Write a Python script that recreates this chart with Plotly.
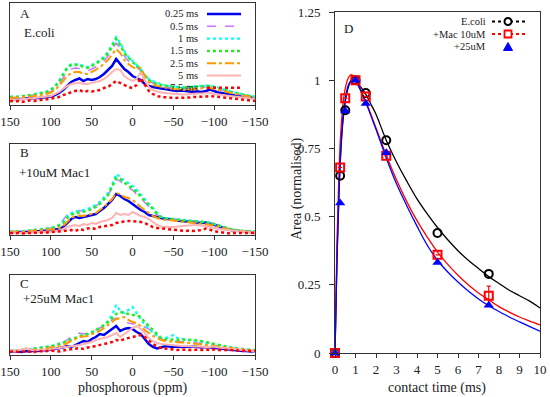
import plotly.graph_objects as go

# ---------------- data ----------------
ppm = list(range(150, -151, -5))
series_names = ["0.25 ms", "0.5 ms", "1 ms", "1.5 ms", "2.5 ms", "5 ms", "7.5 ms"]

# Panel A (E.coli) intensities (arbitrary units)
A_025 = [6,6,5.5,6,6.5,6.5,7,7,7.5,8, 8.5,10,12,15,19,23,25,26.5,24,26, 25,26,28,31,35,39,46,41,36,33,
         29,27,25,21,19,18,17,16.5,16,15, 14.5,14,14.5,14,13.5,13,13.5,13,14,15.5, 14,12.5,12,11,10,9.5,9,8.5,8,7.5, 7]
A_05 = [7,7.5,7.5,8,8.5,9,9.5,10,11,12, 13.5,16,21,27,33,36,37,36.5,35,34, 36,38,41,44,49,55,62,57,49,44,
        40,38,34,28,24,22,20,19,18,17.5, 17,16.5,16,16.5,16.5,17,17.5,17.5,18,18.5, 17,16,15,13.5,12.5,11.5,10.5,9.5,9,8.5, 8]
A_1 = [8,8.5,8,9,9.5,10,11,11.5,12.5,13.5, 15.5,19,24,31,38,41,41,40.5,39,38, 40,42,45,48,53,60,68,62,54,48,
       44,41,36,30,26,24,22,20.5,19.5,19, 18.5,18,17.5,18,18,18.5,19,19,19.5,19.5, 18.5,17.5,16.5,15,13.5,12.5,11.5,10.5,9.5,9, 8.5]
A_15 = [8,8,8.5,9,9,10,10.5,11,12,13, 15,18,23,30,37,40,40,40,38,37, 39,41,44,47,52,58,66,60,52,47,
        43,40,35,29,25,23,21,20,19,18.5, 18,17.5,17,17.5,17.5,18,18.5,18.5,19,19, 18,17,16,14.5,13,12,11,10,9,8.5, 8]
A_25 = [7,7,7.5,8,8,8.5,9,9.5,10,11, 12.5,15,19,24,29,32,33,33,31,31, 33,35,38,41,45,50,56,52,45,41,
        38,36,37,29,23,20,19,18,17,16.5, 16,15.5,15,15,15.5,16,16.5,16.5,17,17, 16,15,14,13,12,11,10,9.5,9,8, 7.5]
A_5 = [5,5.5,5.5,6,6,6.5,7,7,7.5,8, 9,11,13,16,19,21,22,22.5,21,21, 22,23,24,26,29,33,36,35,29,26,
       24,26,33,25,18,15,13.5,12.5,12,11.5, 11,11,10.5,10.5,11,11,11.5,11.5,12,12, 11,10.5,10,9.5,9,8.5,8,7.5,7,6.5, 6]
A_75 = [4,3.5,4,3,4,4.5,4,5,5,5.5, 6,7,8,10,11,13,14,15,13,14, 13.5,14,15,17,18,21,24,22,20,18,
        17,20,27,20,14,11,9,8,8,7.5, 7,7,7.5,7,7.5,8,8,8.5,8.5,9, 8.5,8,7.5,7,6.5,6,5.5,5.5,5,4.5, 4]

# Panel B (+10uM Mac1)
B_025 = [3,3,2.5,3,3,3.5,3.5,4,4,4.5, 5,5.5,6,8,12,16,18,17,18,19, 20,21,24,27,31,35,41,39,36,34,
         31,28,25,23,20,19,18,17,16,16, 15,14.5,14,13.5,13,13,12.5,12,12.5,11.5, 10.5,9,7.5,6,5,4.5,4,3.5,3,3, 2.5]
B_05 = [3,3.5,3.5,4,4,4.5,5,5,5.5,6, 7,8.5,11,15,20,23,24,24.5,24,25, 27,29,32,35,40,47,56,54,50,47,
        45,41,37,32,28,24,20,18,17,16.5, 16,15.5,15,15,14.5,14,14,13.5,13,12.5, 11,9.5,8,7,6,5,4.5,4,3.5,3.5, 3]
B_1 = [3.5,4,3.5,4,4.5,4.5,5,5.5,6,6.5, 7,8.5,10,14,19,22,23.5,24,25,26, 28,30,33,37,42,50,61,58,54,52,
       49,45,40,35,31,27,22,18,17,16.5, 16,15.5,15,14.5,14,14,13.5,13.5,13,12.5, 11,9.5,8,7,6,5,4.5,4,4,3.5, 3.5]
B_15 = [3,3.5,3.5,3.5,4,4.5,4.5,5,5.5,6, 6.5,8,9.5,12,17,20,22,22.5,23,24, 26,28,31,35,40,48,57,56,52,49,
        47,43,39,34,30,26,21,18,16.5,16, 15.5,15,14.5,14.5,14,14,13.5,13.5,13,12, 11,9.5,8,7,6,5,4.5,4,4,3.5, 3.5]
B_25 = [3,3,3,3.5,3.5,4,4,4.5,5,5, 5.5,6,7,9,13,17,19,19.5,19,20, 21,22,25,28,32,36,42,41,38,37,
        35,32,28,25,22,19,17,16,15,15, 14.5,14,13.5,13,12.5,12,11.5,11,11,10.5, 9.5,8.5,7,6,5,4.5,4,3.5,3,3, 3]
B_5 = [2,2.5,2,2.5,2,2.5,2.5,3,3,3, 3.5,4,4.5,6,8,9,10,9,11,10, 12,11,13,14,15,17,22,20,21,20,
       23,21,19,18,16,13,10,8.5,8,8, 8,8.5,9,9,9.5,10,10,9.5,9,8, 7,6,5.5,5,4.5,4,3.5,3,3,2.5, 2.5]
B_75 = [2,1.5,2,1.5,2,2,2.5,2,2.5,2.5, 3,3,3.5,4,4.5,5,4,6,5,6.5, 7,6,8,8.5,9,10,12,13,13.5,14,
        14,13.5,13,12,10,8,7,6.5,6,5.5, 5,5,4.5,4,4.5,4,4.5,5,6.5,5, 4,3,2.5,2,1.5,2,2,1.5,2,2, 2]

# Panel C (+25uM Mac1)
C_025 = [3,4,3.5,3,4,3.5,4.5,4,5,4.5, 5.5,6,7,7.5,9,8,10,12,14,13, 16,18,21,20,23,26,29,24,26,27,
         26,23,21,16,11,8,6.5,7.5,9,8.5, 8,8.5,8,8.5,8,8.5,8,7.5,8,7.5, 7,6.5,6,5.5,5,4.5,4.5,4,4,3.5, 4]
C_05 = [4,4.5,4,4.5,5,5,5.5,6,6.5,7, 8,9,10,12,15,18,20,22,21,22, 24,25,27,29,32,35,37,35,33,32,
        31,32,31,28,26,22,19,16,15,14.5, 14,13.5,13,13,12.5,12.5,12,11.5,11,10.5, 10,9,8,7,6.5,6,5.5,5,5,4.5, 4.5]
C_1 = [5,4.5,5,6,5.5,6,6.5,7,7.5,8, 9,10,11,12.5,14,15.5,17,18,19,21, 22,24,26,30,34,40,50,44,42,45,
       48,42,36,30,27,22,19,17,17,18, 20,17,16,15.5,15,15,14,13,12,11, 10,9.5,9,8.5,8,7,6.5,6,5.5,5, 4.5]
C_15 = [4,4.5,4,5,5,5.5,6,6.5,7,7.5, 8.5,9.5,11,12,13.5,15,17,19,20,21, 23,25,27,30,33,37,41,43,42,41,
        40,40,38,33,29,24,20,17,16,15.5, 15,15,15.5,15,15,15,14.5,14,13,12, 11,10,9,8,7,6.5,6,5.5,5,5, 5]
C_25 = [4,4,4.5,4,4.5,5,5,5.5,6,6.5, 7,8,9,10,12,14,16,18,18.5,19, 21,22,24,27,30,33,36,37,38,35,
        33,32,29,25,22,19,17,15,14,13.5, 13,13,12.5,12.5,12,11.5,11,10.5,10,9.5, 9,8,7.5,7,6.5,6,5.5,5,5,4.5, 4.5]
C_5 = [5,4,5,5.5,7,5,4.5,5,5.5,5, 6,6.5,7,7.5,8,9,9.5,10,11,12, 13,15,16,17,18,20,22,18,21,24,
       27,29,26,22,17,14,12,11,10.5,10, 10,9.5,9,9,8.5,8.5,8.5,8,8,8, 8.5,7.5,7,6.5,6,5.5,5,5,4.5,4.5, 4]
C_75 = [3,4,3,3.5,3,3.5,3,4,3.5,4, 4.5,4,3.5,4.5,5,5.5,6.5,7,6,7.5, 8,9,10,11,12,13,15,14,16,17,
        18,19,20,18,14,11,8.5,7,6.5,6, 5.5,5,5.5,5,5,5,5.5,5,5.5,5, 5.5,5,5,5.5,5,4.5,4.5,4,4,4, 4]

panels = [
    [A_025, A_05, A_1, A_15, A_25, A_5, A_75],
    [B_025, B_05, B_1, B_15, B_25, B_5, B_75],
    [C_025, C_05, C_1, C_15, C_25, C_5, C_75],
]
panel_letters = ["A", "B", "C"]
panel_labels = ["E.coli", "+10uM Mac1", "+25uM Mac1"]

# Panel D: normalised area vs contact time
t_pts = [0, 0.25, 0.5, 1, 1.5, 2.5, 5, 7.5]
ecoli_pts = [0, 0.65, 0.89, 1.0, 0.953, 0.78, 0.44, 0.29]
mac10_pts = [0, 0.68, 0.934, 1.0, 0.94, 0.723, 0.36, 0.21]
mac10_err = [0, 0, 0, 0, 0, 0, 0, 0.035]
mac25_pts = [0, 0.55, 0.887, 1.0, 0.915, 0.734, 0.332, 0.175]

t_fit = [0, 0.1, 0.2, 0.3, 0.4, 0.5, 0.6, 0.7, 0.8, 0.9, 1.0, 1.2, 1.4, 1.6, 1.8, 2.0,
         2.5, 3, 3.5, 4, 4.5, 5, 5.5, 6, 6.5, 7, 7.5, 8, 8.5, 9, 9.5, 10]
ecoli_fit = [0, 0.36, 0.6, 0.76, 0.86, 0.92, 0.96, 0.985, 0.998, 1.0, 0.997, 0.98, 0.96, 0.935, 0.905, 0.875,
             0.78, 0.70, 0.63, 0.565, 0.51, 0.46, 0.415, 0.375, 0.34, 0.31, 0.28, 0.255, 0.23, 0.21, 0.19, 0.165]
mac10_fit = [0, 0.42, 0.68, 0.83, 0.92, 0.97, 1.0, 1.015, 1.02, 1.015, 1.005, 0.975, 0.94, 0.905, 0.865, 0.825,
             0.725, 0.635, 0.555, 0.485, 0.425, 0.37, 0.325, 0.285, 0.25, 0.22, 0.195, 0.17, 0.15, 0.132, 0.117, 0.103]
mac25_fit = [0, 0.35, 0.6, 0.77, 0.87, 0.93, 0.97, 0.99, 1.0, 1.0, 0.995, 0.97, 0.935, 0.9, 0.86, 0.82,
             0.715, 0.62, 0.54, 0.465, 0.395, 0.34, 0.297, 0.26, 0.227, 0.198, 0.173, 0.152, 0.132, 0.114, 0.097, 0.08]

# ---------------- styles ----------------
W, H = 550, 397
FONT = "Liberation Serif"
TXT = "#222222"
styles = [
    dict(color="#0000EE", width=2.5, dash="solid"),
    dict(color="#CC77FF", width=1.5, dash="dash"),
    dict(color="#00FFFF", width=2.2, dash="dot"),
    dict(color="#22EE22", width=2.5, dash="dot"),
    dict(color="#FF9900", width=2.0, dash="dashdot"),
    dict(color="#FFB3B3", width=2.0, dash="solid"),
    dict(color="#FF0000", width=2.5, dash="dot"),
]

def px(x):
    return x / W

def py(y):
    return 1 - y / H

def txt(text, x, y, size=13, xanchor="left", angle=0):
    return dict(text=text, x=px(x), y=py(y), xref="paper", yref="paper", xanchor=xanchor,
                yanchor="middle", showarrow=False, textangle=angle, borderpad=0,
                font=dict(family=FONT, size=size, color=TXT))

# panel boxes in pixels: (left, top, right, bottom)
boxes = [(10, 3.3, 255, 105), (10, 144, 255, 235), (10, 275, 255, 355)]
boxD = (335, 12, 540, 353)

fig = go.Figure()
layout = dict(template="none", width=W, height=H, autosize=False,
              margin=dict(l=0, r=0, t=0, b=0, pad=0),
              paper_bgcolor="white", plot_bgcolor="white", showlegend=False,
              font=dict(family=FONT, size=13, color=TXT))

annotations = []
shapes = []
label_pos = [(19, 13, 23, 33), (19, 152, 18, 172), (19, 283, 22, 298)]

for i, (series, box) in enumerate(zip(panels, boxes)):
    n = i + 1
    xa = "x" if n == 1 else f"x{n}"
    ya = "y" if n == 1 else f"y{n}"
    for vals, st, name in zip(series, styles, series_names):
        fig.add_trace(go.Scatter(x=ppm, y=vals, mode="lines", name=name,
                                 line=dict(color=st["color"], width=st["width"], dash=st["dash"]),
                                 xaxis=xa, yaxis=ya))
    l, t, r, b = box
    layout["xaxis" if n == 1 else f"xaxis{n}"] = dict(
        domain=[px(l), px(r)], range=[150, -150], anchor=ya, automargin=False,
        tickvals=[150, 100, 50, 0, -50, -100, -150], ticks="outside", ticklen=4,
        tickcolor="#333", showline=True, linecolor="#333", linewidth=1, mirror=True,
        showgrid=False, zeroline=False, tickfont=dict(family=FONT, size=13, color=TXT))
    layout["yaxis" if n == 1 else f"yaxis{n}"] = dict(
        domain=[py(b), py(t)], range=[0, b - t], anchor=xa, automargin=False,
        showticklabels=False, ticks="", showline=True, linecolor="#333", linewidth=1,
        mirror=True, showgrid=False, zeroline=False)
    lx, ly, tx, ty = label_pos[i]
    annotations.append(txt(panel_letters[i], lx, ly))
    annotations.append(txt(panel_labels[i], tx, ty))

# legend of panel A (drawn as layout decoration)
rows = [14, 26.3, 38.6, 50.9, 63.2, 75.5, 87.8]
for name, st, ry in zip(series_names, styles, rows):
    annotations.append(txt(name, 199, ry, size=10.5, xanchor="right"))
    shapes.append(dict(type="line", xref="paper", yref="paper", x0=px(207), x1=px(241), y0=py(ry), y1=py(ry),
                       line=dict(color=st["color"], width=st["width"], dash=st["dash"])))

# Panel D traces
fig.add_trace(go.Scatter(x=t_fit, y=ecoli_fit, mode="lines", line=dict(color="black", width=1.3, shape="spline"),
                         xaxis="x4", yaxis="y4"))
fig.add_trace(go.Scatter(x=t_fit, y=mac10_fit, mode="lines", line=dict(color="#FF0000", width=1.3, shape="spline"),
                         xaxis="x4", yaxis="y4"))
fig.add_trace(go.Scatter(x=t_fit, y=mac25_fit, mode="lines", line=dict(color="#0000FF", width=1.3, shape="spline"),
                         xaxis="x4", yaxis="y4"))
fig.add_trace(go.Scatter(x=t_pts, y=ecoli_pts, mode="markers", name="E.coli", cliponaxis=False,
                         marker=dict(symbol="circle-open", size=8, color="black", line=dict(width=2)),
                         xaxis="x4", yaxis="y4"))
fig.add_trace(go.Scatter(x=t_pts, y=mac10_pts, mode="markers", name="+Mac 10uM", cliponaxis=False,
                         error_y=dict(type="data", array=mac10_err, color="#FF0000", thickness=1.2, width=2),
                         marker=dict(symbol="square-open", size=8, color="#FF0000", line=dict(width=2)),
                         xaxis="x4", yaxis="y4"))
fig.add_trace(go.Scatter(x=t_pts, y=mac25_pts, mode="markers", name="+25uM", cliponaxis=False,
                         marker=dict(symbol="triangle-up", size=9, color="#0000FF"),
                         xaxis="x4", yaxis="y4"))

l, t, r, b = boxD
layout["xaxis4"] = dict(domain=[px(l), px(r)], range=[0, 10], anchor="y4", dtick=1, tick0=0, automargin=False,
                        ticks="outside", ticklen=4, tickcolor="#333", showline=True, linecolor="#333",
                        linewidth=1, mirror=True, showgrid=False, zeroline=False,
                        tickfont=dict(family=FONT, size=13, color=TXT))
layout["yaxis4"] = dict(domain=[py(b), py(t)], range=[0, 1.25], anchor="x4", automargin=False,
                        tickvals=[0, 0.25, 0.5, 0.75, 1, 1.25], ticktext=["0", "0.25", "0.5", "0.75", "1", "1.25"],
                        ticks="outside", ticklen=5, tickcolor="#333", showline=True, linecolor="#333",
                        linewidth=1, mirror=True, showgrid=False, zeroline=False, ticklabelstandoff=6,
                        tickfont=dict(family=FONT, size=13, color=TXT))
annotations.append(txt("D", 348, 29, xanchor="center"))

# legend of panel D (layout decoration)
drows = [(21.5, "E.coli"), (34, "+Mac 10uM"), (46.5, "+25uM")]
for ry, name in drows:
    annotations.append(txt(name, 487, ry, size=10.5, xanchor="right"))
shapes.append(dict(type="line", xref="paper", yref="paper", x0=px(492), x1=px(527), y0=py(21.5), y1=py(21.5),
                   line=dict(color="black", width=2, dash="dot")))
shapes.append(dict(type="circle", xref="paper", yref="paper", x0=px(504.5), x1=px(511.5), y0=py(25), y1=py(18),
                   line=dict(color="black", width=2), fillcolor="white"))
shapes.append(dict(type="line", xref="paper", yref="paper", x0=px(492), x1=px(527), y0=py(34), y1=py(34),
                   line=dict(color="#FF0000", width=2, dash="dot")))
shapes.append(dict(type="rect", xref="paper", yref="paper", x0=px(504.5), x1=px(511.5), y0=py(37.5), y1=py(30.5),
                   line=dict(color="#FF0000", width=1.8), fillcolor="white"))
shapes.append(dict(type="path", xref="paper", yref="paper",
                   path=f"M {px(503.5)},{py(50.5)} L {px(512.5)},{py(50.5)} L {px(508)},{py(42.5)} Z",
                   line=dict(color="#0000FF", width=1), fillcolor="#0000FF"))

# axis titles
annotations.append(txt("phosphorous (ppm)", 133, 388, size=14, xanchor="center"))
annotations.append(txt("contact time (ms)", 437, 388, size=14, xanchor="center"))
annotations.append(txt("Area (normalised)", 297, 189, size=14, xanchor="center", angle=-90))

layout["annotations"] = annotations
layout["shapes"] = shapes
fig.update_layout(**layout)
fig.write_html("out.html", config={"displayModeBar": False},
               post_script="document.body.style.margin='0px';document.body.style.padding='0px';"
                           "document.body.style.overflow='hidden';")
